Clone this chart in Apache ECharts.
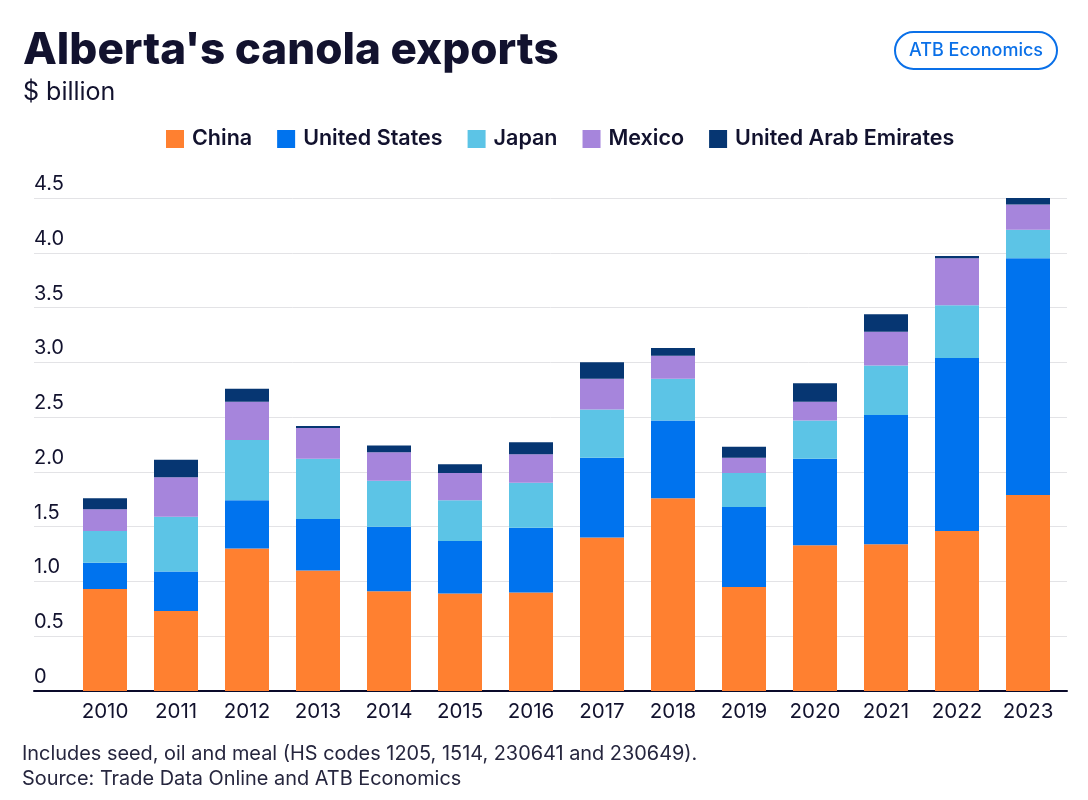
<!DOCTYPE html>
<html>
<head>
<meta charset="utf-8">
<script src="https://cdn.jsdelivr.net/npm/echarts@6/dist/echarts.min.js"></script>
<style>
html,body{margin:0;padding:0;background:#fff;}
#chart{width:1088px;height:800px;}
</style>
</head>
<body>
<div id="chart"></div>
<script>
var years = ['2010','2011','2012','2013','2014','2015','2016','2017','2018','2019','2020','2021','2022','2023'];
var china = [0.93, 0.73, 1.30, 1.10, 0.91, 0.89, 0.90, 1.40, 1.76, 0.95, 1.33, 1.34, 1.46, 1.79];
var unitedStates = [0.24, 0.36, 0.44, 0.47, 0.59, 0.48, 0.59, 0.73, 0.71, 0.73, 0.79, 1.18, 1.58, 2.16];
var japan = [0.29, 0.50, 0.55, 0.55, 0.42, 0.37, 0.41, 0.44, 0.38, 0.31, 0.35, 0.45, 0.48, 0.26];
var mexico = [0.20, 0.36, 0.35, 0.28, 0.26, 0.25, 0.26, 0.28, 0.21, 0.14, 0.17, 0.31, 0.43, 0.23];
var uae = [0.10, 0.16, 0.12, 0.02, 0.06, 0.08, 0.11, 0.15, 0.07, 0.10, 0.17, 0.16, 0.02, 0.06];
var yTicks = ['0','0.5','1.0','1.5','2.0','2.5','3.0','3.5','4.0','4.5'];

var names = ['China','United States','Japan','Mexico','United Arab Emirates'];
var colors = ['#ff8030','#0073ee','#5cc4e6','#a685dc','#063672'];
var seriesData = [china, unitedStates, japan, mexico, uae];

var textColor = '#12122e';
var chart = echarts.init(document.getElementById('chart'));
var series = names.map(function(n, i){
  return {
    name: n, type: 'bar', stack: 'total', xAxisIndex: 1, yAxisIndex: 1,
    barWidth: 44, data: seriesData[i],
    itemStyle: {color: colors[i]}
  };
});
chart.setOption({
  backgroundColor: '#fff',
  animation: false,
  title: [{
    text: "Alberta's canola exports",
    left: 18, top: 24,
    textStyle: {fontFamily: 'Inter', fontWeight: 800, fontSize: 44, color: textColor}
  },{
    text: '$ billion',
    left: 18, top: 75,
    textStyle: {fontFamily: 'Inter', fontWeight: 400, fontSize: 25, color: textColor}
  },{
    text: 'Includes seed, oil and meal (HS codes 1205, 1514, 230641 and 230649).\nSource: Trade Data Online and ATB Economics',
    left: 17, top: 737,
    textStyle: {fontFamily: 'Inter', fontWeight: 400, fontSize: 19.9, lineHeight: 25, color: '#26263e'}
  }],
  legend: {
    data: names, top: 123, left: 161,
    itemWidth: 18, itemHeight: 18, itemGap: 25,
    icon: 'rect',
    textStyle: {fontFamily: 'Inter', fontWeight: 600, fontSize: 21.5, color: textColor, padding: [0,0,0,3]}
  },
  graphic: [{
    type: 'group', left: 894, top: 31,
    children: [{
      type: 'rect', shape: {x: 0, y: 0, width: 162, height: 37, r: 18.5},
      style: {fill: '#fff', stroke: '#0a70e8', lineWidth: 2}
    },{
      type: 'text', x: 81, y: 18.5,
      style: {text: 'ATB Economics', fill: '#0a70e8', font: '500 18px Inter', align: 'center', verticalAlign: 'middle'}
    }]
  }],
  grid: [
    {left: 34, right: 21, top: 198, bottom: 109},
    {left: 69.5, right: 24.5, top: 198, bottom: 109}
  ],
  xAxis: [{
    type: 'category', gridIndex: 0, data: years,
    axisLine: {show: true, lineStyle: {color: '#0a0a2a', width: 2}},
    axisTick: {show: false}, axisLabel: {show: false}
  },{
    type: 'category', gridIndex: 1, data: years,
    axisLine: {show: false}, axisTick: {show: false},
    axisLabel: {fontFamily: 'Inter', fontSize: 20.5, color: textColor, margin: 10}
  }],
  yAxis: [{
    type: 'value', gridIndex: 0, min: 0, max: 4.5, interval: 0.5,
    axisLine: {show: false}, axisTick: {show: false},
    splitLine: {lineStyle: {color: '#e3e3e6', width: 1}},
    axisLabel: {
      inside: true, align: 'left', verticalAlign: 'bottom', margin: 0,
      padding: [0,0,4,0],
      fontFamily: 'Inter', fontSize: 20, color: textColor,
      formatter: function(v){ return yTicks[Math.round(v/0.5)]; }
    }
  },{
    type: 'value', gridIndex: 1, min: 0, max: 4.5, interval: 0.5,
    show: false, splitLine: {show: false}
  }],
  series: series
});
</script>
</body>
</html>
